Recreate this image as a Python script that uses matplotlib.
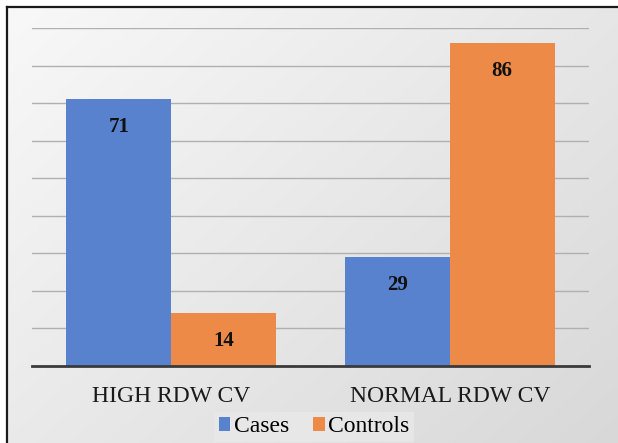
import numpy as np
import matplotlib
matplotlib.use("Agg")
import matplotlib.pyplot as plt
from matplotlib.lines import Line2D

categories = ["HIGH RDW CV", "NORMAL RDW CV"]
cases = [71, 29]
controls = [14, 86]
series_names = ["Cases", "Controls"]

BLUE = "#5882CD"
ORANGE = "#EE8A47"
plt.rcParams["font.family"] = ["Liberation Serif", "DejaVu Serif"]

W, H = 618, 443
fig = plt.figure(figsize=(W / 100, H / 100), dpi=100)

# -------- background gradient -------- #
bg = fig.add_axes([0, -0.02, 1.02, 1.02], zorder=-10)
yy, xx = np.mgrid[0:1:200j, 0:1:200j]
t = 0.55 * xx + 0.45 * yy
shade = 0.975 - 0.13 * t
img = np.dstack([shade, shade, shade])
bg.imshow(img, extent=[0, 1, 0, 1], aspect="auto", origin="upper")
bg.set_axis_off()
bg.set_xlim(0, 1)
bg.set_ylim(0, 1)

# white strip outside the chart frame + frame line
bx, by = 7 / W, 1 - 7 / H
fig.patches.append(plt.Rectangle((0, 0), bx, 1, transform=fig.transFigure,
                                 color="white", zorder=-5))
fig.patches.append(plt.Rectangle((0, by), 1, 1 - by, transform=fig.transFigure,
                                 color="white", zorder=-5))
fig.add_artist(Line2D([bx, bx], [0, by], transform=fig.transFigure, color="#1a1a1a", lw=1.6))
fig.add_artist(Line2D([bx, 1], [by, by], transform=fig.transFigure, color="#1a1a1a", lw=1.6))

# -------- chart -------- #
ax = fig.add_axes([32 / W, 1 - 366 / H, (589 - 32) / W, (366 - 28) / H])
ax.patch.set_alpha(0)

x = np.arange(len(categories))
width = 0.377
b1 = ax.bar(x - width / 2, cases, width, color=BLUE, label=series_names[0], zorder=3)
b2 = ax.bar(x + width / 2, controls, width, color=ORANGE, label=series_names[1], zorder=3)

for bars in (b1, b2):
    for rect in bars:
        v = rect.get_height()
        ax.annotate(f"{v:.0f}", (rect.get_x() + rect.get_width() / 2, v),
                    xytext=(0, -20), textcoords="offset points",
                    ha="center", va="center", fontsize=15, fontweight="bold",
                    color="#111111", zorder=4)

ax.set_xlim(-0.5, 1.5)
ax.set_ylim(0, 90)
ax.set_yticks(np.arange(10, 91, 10))
ax.yaxis.grid(True, color="#b0b0b0", lw=1.0, zorder=1)
ax.tick_params(axis="y", left=False, labelleft=False)
ax.tick_params(axis="x", bottom=False, pad=11)
ax.set_xticks(x)
ax.set_xticklabels(categories, fontsize=17, color="#1a1a1a")
for s in ["top", "right", "left"]:
    ax.spines[s].set_visible(False)
ax.spines["bottom"].set_color("#3a3a3a")
ax.spines["bottom"].set_linewidth(2.0)
ax.spines["bottom"].set_zorder(5)

leg = ax.legend(loc="center", bbox_to_anchor=(314 / W, 1 - 427 / H),
                bbox_transform=fig.transFigure, ncol=2, frameon=True,
                fontsize=17, handlelength=0.5, handleheight=0.5,
                handletextpad=0.15, columnspacing=1.0,
                borderpad=0.2, fancybox=False)
leg.get_frame().set_facecolor("#e9e9e9")
leg.get_frame().set_edgecolor("none")
leg.get_frame().set_alpha(0.8)

fig.savefig("out.png", dpi=100)
